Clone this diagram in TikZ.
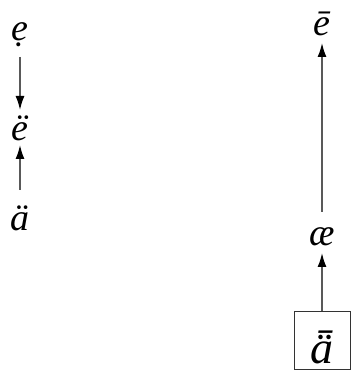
\documentclass[tikz,border=0pt]{standalone}
\usepackage{fontspec}
\setmainfont{Liberation Serif}
\usetikzlibrary{arrows.meta}
\begin{document}
\begin{tikzpicture}[x=1pt,y=1pt,
  lbl/.style={font=\fontsize{38}{40}\selectfont\itshape, inner sep=0pt},
  arr/.style={draw=black!65, line width=1.5pt, -{Latex[length=14pt,width=9pt,fill=black,color=black]}}]
\useasboundingbox (0,0) rectangle (352,374);
\node[lbl] (e) at (20,339) {ẹ};
\node[lbl] (ed) at (20,246) {ë};
\node[lbl] (ad) at (20,156) {ä};
\node[lbl] (eb) at (322,350) {ē};
\node[lbl] (ae) at (322,137) {æ};
\node[draw=black!80, line width=0.9pt, minimum width=56pt, minimum height=58pt, inner sep=0pt] (box) at (322,34) {};
\node[lbl, font=\fontsize{46}{48}\selectfont\itshape] (boxa) at (322,27) {ǟ};
\draw[arr, shorten <=22pt, shorten >=18pt] (e.center) -- (ed.center);
\draw[arr, shorten <=28pt, shorten >=17pt] (ad.center) -- (ed.center);
\draw[arr, shorten <=25pt, shorten >=19pt] (ae.center) -- (eb.center);
\draw[arr, shorten >=16pt] (box.north) -- (ae.center);
\end{tikzpicture}
\end{document}
